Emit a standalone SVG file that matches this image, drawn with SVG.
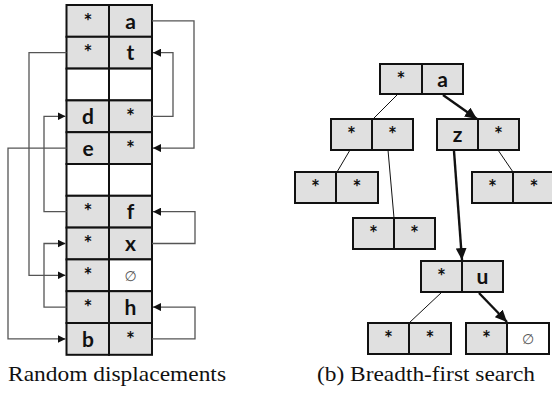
<svg xmlns="http://www.w3.org/2000/svg" width="552" height="403" viewBox="0 0 552 403">
<style>
.c{fill:#e0e0e0;stroke:#111;stroke-width:2}
.w{fill:#fff;stroke:#111;stroke-width:2}
.t{font-family:Lato,'Open Sans',sans-serif;font-weight:bold;font-size:21px;fill:#111;text-anchor:middle}
.n{font-family:'DejaVu Sans',sans-serif;font-size:14px;fill:#555;text-anchor:middle}
.cap{font-family:'Liberation Serif','Times New Roman',serif;font-size:21.5px;fill:#111}
.lk{fill:none;stroke:#555;stroke-width:1.3}
.e{fill:none;stroke:#111;stroke-width:1}
.eb{fill:none;stroke:#111;stroke-width:2.4}
</style>
<defs>
<marker id="ah" markerUnits="userSpaceOnUse" markerWidth="9" markerHeight="8" refX="8" refY="4" orient="auto"><path d="M0,0 L8,4 L0,8 Z" fill="#111"/></marker>
<marker id="ab" markerUnits="userSpaceOnUse" markerWidth="13" markerHeight="11" refX="12" refY="5.5" orient="auto"><path d="M0,0 L12,5.5 L0,11 Z" fill="#111"/></marker>
</defs>

<g id="table">
<rect class="c" x="66.5" y="5" width="42.5" height="31.8"/><rect class="c" x="109" y="5" width="43" height="31.8"/>
<rect class="c" x="66.5" y="36.8" width="42.5" height="31.8"/><rect class="c" x="109" y="36.8" width="43" height="31.8"/>
<rect class="w" x="66.5" y="68.6" width="42.5" height="31.8"/><rect class="w" x="109" y="68.6" width="43" height="31.8"/>
<rect class="c" x="66.5" y="100.4" width="42.5" height="31.8"/><rect class="c" x="109" y="100.4" width="43" height="31.8"/>
<rect class="c" x="66.5" y="132.2" width="42.5" height="31.8"/><rect class="c" x="109" y="132.2" width="43" height="31.8"/>
<rect class="w" x="66.5" y="164" width="42.5" height="31.8"/><rect class="w" x="109" y="164" width="43" height="31.8"/>
<rect class="c" x="66.5" y="195.8" width="42.5" height="31.8"/><rect class="c" x="109" y="195.8" width="43" height="31.8"/>
<rect class="c" x="66.5" y="227.6" width="42.5" height="31.8"/><rect class="c" x="109" y="227.6" width="43" height="31.8"/>
<rect class="c" x="66.5" y="259.4" width="42.5" height="31.8"/><rect class="w" x="109" y="259.4" width="43" height="31.8"/>
<rect class="c" x="66.5" y="291.2" width="42.5" height="31.8"/><rect class="c" x="109" y="291.2" width="43" height="31.8"/>
<rect class="c" x="66.5" y="323" width="42.5" height="31.8"/><rect class="c" x="109" y="323" width="43" height="31.8"/>
<text class="t" x="88" y="28.5">*</text><text class="t" x="130.5" y="28.5">a</text>
<text class="t" x="88" y="60.3">*</text><text class="t" x="130.5" y="60.3">t</text>
<text class="t" x="88" y="124">d</text><text class="t" x="130.5" y="124">*</text>
<text class="t" x="88" y="155.8">e</text><text class="t" x="130.5" y="155.8">*</text>
<text class="t" x="88" y="219.3">*</text><text class="t" x="130.5" y="219.3">f</text>
<text class="t" x="88" y="251.1">*</text><text class="t" x="130.5" y="251.1">x</text>
<text class="t" x="88" y="282.9">*</text><text class="n" x="130.5" y="281">∅</text>
<text class="t" x="88" y="314.7">*</text><text class="t" x="130.5" y="314.7">h</text>
<text class="t" x="88" y="346.5">b</text><text class="t" x="130.5" y="346.5">*</text>
</g>

<g id="n-root"><rect class="c" x="380" y="64" width="42" height="30"/><rect class="c" x="422" y="64" width="41" height="30"/>
<text class="t" x="401" y="87">*</text><text class="t" x="442.5" y="87">a</text></g>
<g id="n-L"><rect class="c" x="331" y="119" width="41" height="31"/><rect class="c" x="372" y="119" width="41" height="31"/>
<text class="t" x="351.5" y="142">*</text><text class="t" x="392.5" y="142">*</text></g>
<g id="n-Z"><rect class="c" x="437" y="119" width="41" height="31"/><rect class="c" x="478" y="119" width="41" height="31"/>
<text class="t" x="457.5" y="142">z</text><text class="t" x="498.5" y="142">*</text></g>
<g id="n-LL"><rect class="c" x="295" y="172" width="41" height="31"/><rect class="c" x="336" y="172" width="42" height="31"/>
<text class="t" x="315.5" y="195">*</text><text class="t" x="357" y="195">*</text></g>
<g id="n-ZR"><rect class="c" x="472" y="172" width="41" height="31"/><rect class="c" x="513" y="172" width="42" height="31"/>
<text class="t" x="492.5" y="195">*</text><text class="t" x="534" y="195">*</text></g>
<g id="n-LR"><rect class="c" x="353" y="218" width="41" height="31"/><rect class="c" x="394" y="218" width="41" height="31"/>
<text class="t" x="373.5" y="241">*</text><text class="t" x="414.5" y="241">*</text></g>
<g id="n-U"><rect class="c" x="421" y="261" width="41" height="31"/><rect class="c" x="462" y="261" width="41" height="31"/>
<text class="t" x="441.5" y="284">*</text><text class="t" x="482.5" y="284">u</text></g>
<g id="n-UL"><rect class="c" x="368" y="323" width="41" height="31"/><rect class="c" x="409" y="323" width="42" height="31"/>
<text class="t" x="388.5" y="346">*</text><text class="t" x="430" y="346">*</text></g>
<g id="n-UR"><rect class="c" x="466" y="323" width="41" height="31"/><rect class="w" x="507" y="323" width="42" height="31"/>
<text class="t" x="486.5" y="346">*</text><text class="n" x="528" y="344">∅</text></g>

<g id="connectors">
<path class="lk" d="M152,20.9 H194 V148.1 H153" marker-end="url(#ah)"/>
<path class="lk" d="M152,116.3 H173 V52.7 H153" marker-end="url(#ah)"/>
<path class="lk" d="M66.5,52.7 H29 V275.3 H65.5" marker-end="url(#ah)"/>
<path class="lk" d="M66.5,211.7 H44 V116.3 H65.5" marker-end="url(#ah)"/>
<path class="lk" d="M66.5,148.1 H8 V338.9 H65.5" marker-end="url(#ah)"/>
<path class="lk" d="M152,243.5 H195 V211.7 H153" marker-end="url(#ah)"/>
<path class="lk" d="M66.5,307.1 H44 V243.5 H65.5" marker-end="url(#ah)"/>
<path class="lk" d="M152,338.9 H195 V307.1 H153" marker-end="url(#ah)"/>
<path class="e" d="M398,94 L373,119"/>
<path class="eb" d="M443,95 L477,119" marker-end="url(#ab)"/>
<path class="e" d="M350,150 L337,172"/>
<path class="e" d="M388,150 L394,218"/>
<path class="eb" d="M454,151 L462,260" marker-end="url(#ab)"/>
<path class="e" d="M498,150 L513,172"/>
<path class="e" d="M442,292 L409,323"/>
<path class="eb" d="M479,293 L507,322" marker-end="url(#ab)"/>
</g>

<text class="cap" x="8" y="381" textLength="218" lengthAdjust="spacingAndGlyphs">Random displacements</text>
<text class="cap" x="317" y="381" textLength="218" lengthAdjust="spacingAndGlyphs">(b) Breadth-first search</text>
</svg>
